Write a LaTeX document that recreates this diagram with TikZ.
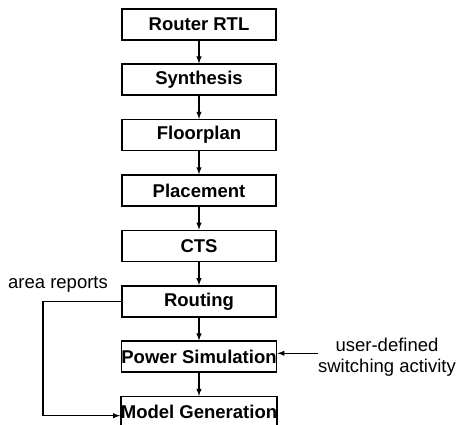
\documentclass[tikz,border=0pt]{standalone}
\usepackage{fontspec}
\setmainfont{Liberation Sans}
\tikzset{
	stage/.style={draw,line width=1.6pt,minimum width=154pt,minimum height=31pt,inner sep=0pt,font=\fontsize{18.5}{21}\selectfont\bfseries},
	note/.style={font=\fontsize{18.5}{21}\selectfont,align=center},
	flow/.style={line width=1.4pt,-latex}
}
\begin{document}
\begin{tikzpicture}[x=1pt,y=1pt]
			\useasboundingbox (0,0) rectangle (466,425);
			% DESIGN FLOW
			\foreach \t [count=\i] in {Router RTL,Synthesis,Floorplan,Placement,CTS,Routing,Power Simulation,Model Generation} {
				\node[stage] (s\i) at (199,456-55.4*\i) {\t};
			}
			\foreach \i [count=\j from 2] in {1,...,7} {
				\draw[flow] (s\i.south) -- (s\j.north);
			}

			% AREA REPORTS
			\node[note] (area) at (58,141) {area reports};
			\coordinate (areaend) at ([yshift=-3.5pt]s8.west);
			\coordinate (bend) at (43,0);
			\draw[flow] (s6.west) -| (bend |- areaend) -- (areaend);

			% SWITCHING ACTIVITY
			\node[note] (act) at (387,68) {user-defined\\switching activity};
			\coordinate (actend) at ([yshift=3.5pt]s7.east);
			\coordinate (actin) at (318,0);
			\draw[flow] (actin |- actend) -- (actend);
\end{tikzpicture}
\end{document}
